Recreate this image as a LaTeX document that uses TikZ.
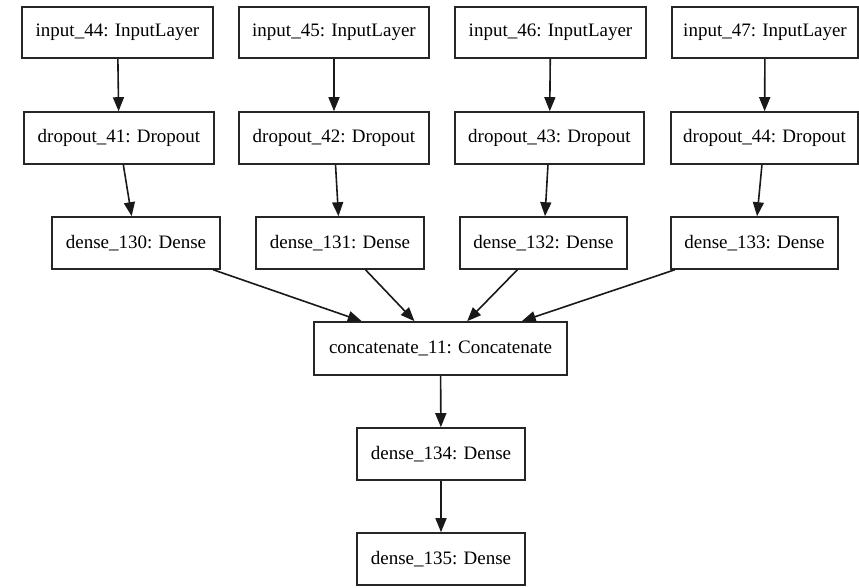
\documentclass[tikz,border=0pt]{standalone}
\usepackage{fontspec}
\setmainfont{Liberation Serif}
\usetikzlibrary{arrows.meta}
\begin{document}
\begin{tikzpicture}[x=1pt,y=-1pt,
  layer/.style={draw=black!85, line width=1.6pt, rectangle, inner sep=0pt,
    minimum height=52pt, font=\fontsize{19}{21}\selectfont},
  flow/.style={draw=black!90, line width=1.6pt, -{Triangle[width=11pt,length=14pt]}}]
\useasboundingbox (0,0) rectangle (859,587);
\node[layer, minimum width=191pt, minimum height=51pt] (i44) at (117.5,32.5) {input\_44: InputLayer};
\node[layer, minimum width=190pt, minimum height=51pt] (i45) at (334,32.5) {input\_45: InputLayer};
\node[layer, minimum width=191pt, minimum height=51pt] (i46) at (550.5,32.5) {input\_46: InputLayer};
\node[layer, minimum width=186pt, minimum height=51pt] (i47) at (765,32.5) {input\_47: InputLayer};
\node[layer, minimum width=190pt] (d41) at (119,138) {dropout\_41: Dropout};
\node[layer, minimum width=190pt] (d42) at (334,138) {dropout\_42: Dropout};
\node[layer, minimum width=189pt] (d43) at (549.5,138) {dropout\_43: Dropout};
\node[layer, minimum width=187pt] (d44) at (764.5,138) {dropout\_44: Dropout};
\node[layer, minimum width=168pt] (n130) at (136,243) {dense\_130: Dense};
\node[layer, minimum width=168pt] (n131) at (340,243) {dense\_131: Dense};
\node[layer, minimum width=167pt] (n132) at (543.5,243) {dense\_132: Dense};
\node[layer, minimum width=167pt] (n133) at (754.5,243) {dense\_133: Dense};
\node[layer, minimum width=253pt, minimum height=53pt] (cat) at (440.5,348.5) {concatenate\_11: Concatenate};
\node[layer, minimum width=168pt] (n134) at (441,454) {dense\_134: Dense};
\node[layer, minimum width=168pt] (n135) at (441,559) {dense\_135: Dense};
\draw[flow] (i44) -- (d41);
\draw[flow] (i45) -- (d42);
\draw[flow] (i46) -- (d43);
\draw[flow] (i47) -- (d44);
\draw[flow] (d41) -- (n130);
\draw[flow] (d42) -- (n131);
\draw[flow] (d43) -- (n132);
\draw[flow] (d44) -- (n133);
\draw[flow] (n130) -- (cat);
\draw[flow] (n131) -- (cat);
\draw[flow] (n132) -- (cat);
\draw[flow] (n133) -- (cat);
\draw[flow] (cat) -- (n134);
\draw[flow] (n134) -- (n135);
\end{tikzpicture}
\end{document}
